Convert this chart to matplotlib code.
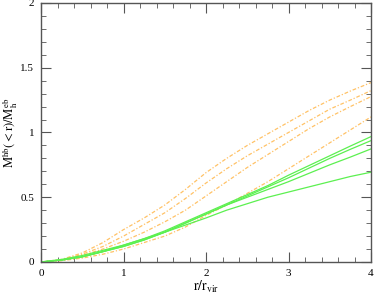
import numpy as np
import matplotlib.pyplot as plt
from matplotlib.ticker import MultipleLocator

plt.rcParams['font.family'] = ['Liberation Serif', 'DejaVu Serif']
plt.rcParams['mathtext.fontset'] = 'stix'

# radius in units of r_vir
r = [0.0, 0.25, 0.5, 0.75, 1.0, 1.25, 1.5, 1.75, 2.0,
     2.25, 2.5, 2.75, 3.0, 3.25, 3.5, 3.75, 4.0]

# dashed orange profiles
orange = [
    [0, 0.02, 0.07, 0.15, 0.25, 0.34, 0.44, 0.56, 0.69, 0.80, 0.90, 0.99, 1.08, 1.17, 1.25, 1.32, 1.385],
    [0, 0.015, 0.06, 0.12, 0.20, 0.29, 0.38, 0.49, 0.61, 0.72, 0.82, 0.91, 1.00, 1.09, 1.18, 1.25, 1.323],
    [0, 0.012, 0.05, 0.10, 0.16, 0.23, 0.31, 0.40, 0.51, 0.62, 0.73, 0.83, 0.93, 1.03, 1.12, 1.20, 1.277],
    [0, 0.01, 0.03, 0.06, 0.10, 0.15, 0.20, 0.27, 0.36, 0.44, 0.53, 0.62, 0.72, 0.82, 0.92, 1.02, 1.12],
]

# solid green profiles
green = [
    [0, 0.015, 0.04, 0.08, 0.13, 0.18, 0.24, 0.31, 0.38, 0.45, 0.52, 0.59, 0.67, 0.745, 0.82, 0.895, 0.968],
    [0, 0.015, 0.04, 0.08, 0.12, 0.17, 0.23, 0.30, 0.37, 0.44, 0.51, 0.58, 0.65, 0.725, 0.80, 0.87, 0.937],
    [0, 0.015, 0.04, 0.08, 0.12, 0.17, 0.23, 0.30, 0.37, 0.44, 0.50, 0.56, 0.62, 0.685, 0.75, 0.81, 0.873],
    [0, 0.02, 0.05, 0.09, 0.13, 0.18, 0.23, 0.285, 0.34, 0.40, 0.45, 0.50, 0.54, 0.58, 0.62, 0.66, 0.693],
]

fig = plt.figure(figsize=(3.74, 2.95), dpi=100)
ax = fig.add_axes([0.11, 0.112, 0.882, 0.878])

for y in orange:
    ax.plot(r, y, color='#ffc266', lw=0.9, dashes=(3, 1.5, 1, 1.5))
for y in green:
    ax.plot(r, y, color='#5cf050', lw=0.9)

ax.set_xlim(0, 4)
ax.set_ylim(0, 2)
ax.xaxis.set_major_locator(MultipleLocator(1))
ax.xaxis.set_minor_locator(MultipleLocator(0.2))
ax.yaxis.set_major_locator(MultipleLocator(0.5))
ax.yaxis.set_minor_locator(MultipleLocator(0.1))
ax.yaxis.set_major_formatter(plt.FuncFormatter(lambda v, p: f'{v:g}'))
ax.tick_params(which='both', direction='in', top=True, right=True, labelsize=8, color='#555555')
ax.tick_params(which='major', length=7, pad=5)
ax.tick_params(which='minor', length=3.5)
for s in ax.spines.values():
    s.set_color('#555555')
    s.set_linewidth(1)

ax.set_xlabel(r'$\mathrm{r/r_{vir}}$', fontsize=10, labelpad=1)
ax.set_ylabel(r'$\mathrm{M^{hb}(<r)/M_h^{eb}}$', fontsize=9, labelpad=0)

fig.savefig('out.png', dpi=100)
